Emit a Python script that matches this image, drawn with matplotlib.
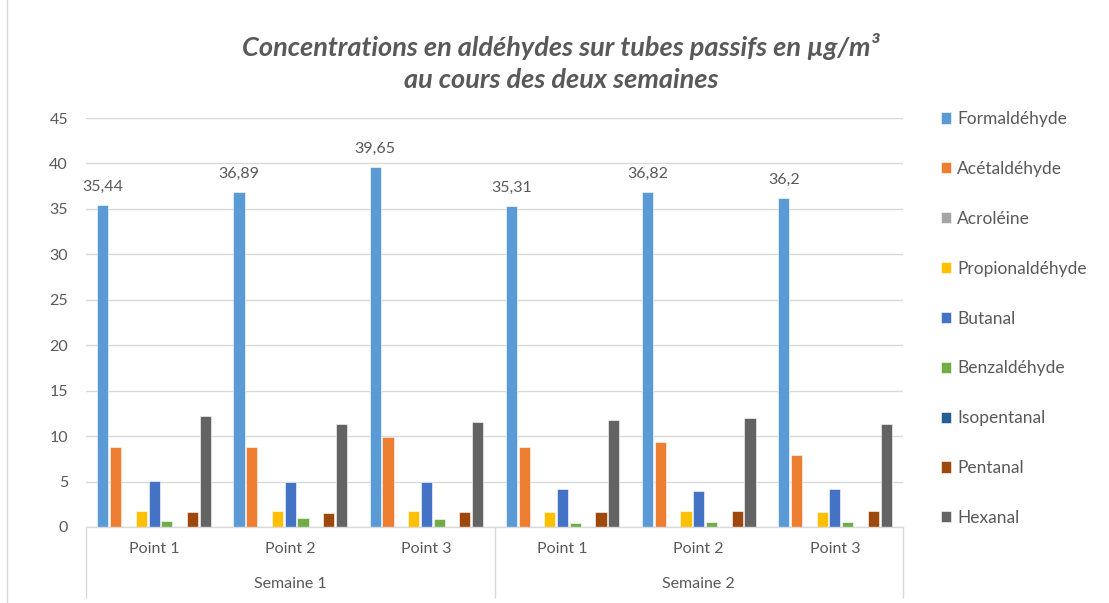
import matplotlib.pyplot as plt
from matplotlib.lines import Line2D
import numpy as np

plt.rcParams['font.family'] = ['Lato', 'DejaVu Sans']

points = ['Point 1', 'Point 2', 'Point 3', 'Point 1', 'Point 2', 'Point 3']
semaines = ['Semaine 1', 'Semaine 2']

series = ['Formaldéhyde', 'Acétaldéhyde', 'Acroléine', 'Propionaldéhyde', 'Butanal',
          'Benzaldéhyde', 'Isopentanal', 'Pentanal', 'Hexanal']

formaldehyde = [35.44, 36.89, 39.65, 35.31, 36.82, 36.2]
acetaldehyde = [8.85, 8.85, 9.9, 8.75, 9.3, 7.95]
acroleine = [0, 0, 0, 0, 0, 0]
propionaldehyde = [1.75, 1.75, 1.75, 1.6, 1.75, 1.6]
butanal = [5.1, 5.0, 5.0, 4.2, 3.95, 4.2]
benzaldehyde = [0.7, 0.95, 0.85, 0.45, 0.55, 0.55]
isopentanal = [0, 0, 0, 0, 0, 0]
pentanal = [1.6, 1.5, 1.6, 1.6, 1.75, 1.75]
hexanal = [12.2, 11.3, 11.55, 11.8, 11.95, 11.3]

values = [formaldehyde, acetaldehyde, acroleine, propionaldehyde, butanal,
          benzaldehyde, isopentanal, pentanal, hexanal]
colors = ['#5B9BD5', '#ED7D31', '#A5A5A5', '#FFC000', '#4472C4',
          '#70AD47', '#255E91', '#9E480E', '#636363']

txt = '#595959'
grid_c = '#D9D9D9'

fig = plt.figure(figsize=(11.09, 6.03), dpi=100)
ax = fig.add_axes([86 / 1109, 1 - 527 / 603, (903 - 86) / 1109, (527 - 118) / 603])

x = np.arange(len(points)) + 0.5
slot = 0.094
width = 0.082
for i, (name, vals, c) in enumerate(zip(series, values, colors)):
    off = (i - 4) * slot
    bars = ax.bar(x + off, vals, width, color=c, label=name, edgecolor='white', linewidth=0.4, zorder=3)
    if i == 0:
        for b, v in zip(bars, vals):
            ax.annotate(f'{v:g}'.replace('.', ','), (b.get_x() + b.get_width() / 2, v),
                        xytext=(0, 8), textcoords='offset points', ha='center', va='bottom',
                        fontsize=11.5, color=txt)

ax.set_xlim(0, 6)
ax.set_ylim(0, 45)
ax.set_yticks(range(0, 46, 5))
ax.yaxis.grid(True, color=grid_c, linewidth=1, zorder=0)
ax.tick_params(axis='y', length=0, pad=13, labelsize=11.5, labelcolor=txt)
for s in ['top', 'right', 'left']:
    ax.spines[s].set_visible(False)
ax.spines['bottom'].set_color(grid_c)
ax.spines['bottom'].set_linewidth(1)
ax.spines['bottom'].set_zorder(4)

# first level: points
ax.set_xticks(x)
ax.set_xticklabels(points)
ax.tick_params(axis='x', length=0, pad=11, labelsize=11.5, labelcolor=txt)

# separators
sep = ax.secondary_xaxis('bottom')
sep.set_xticks([0, 3, 6])
sep.set_xticklabels(['', '', ''])
sep.tick_params(axis='x', length=51, width=1, color=grid_c)
sep.spines['bottom'].set_visible(False)

# second level: semaines
sem = ax.secondary_xaxis('bottom')
sem.set_xticks([1.5, 4.5])
sem.set_xticklabels(semaines)
sem.tick_params(axis='x', length=0, pad=36, labelsize=11.5, labelcolor=txt)
sem.spines['bottom'].set_visible(False)

fig.text(561 / 1109, 1 - 63 / 603,
         'Concentrations en aldéhydes sur tubes passifs en µg/m³\nau cours des deux semaines',
         ha='center', va='center', fontsize=19.5, fontweight='bold', fontstyle='italic',
         color=txt, linespacing=1.4)

ax.legend(loc='upper left', bbox_to_anchor=(1.027, 1.055), frameon=False, fontsize=12.5,
          labelcolor=txt, handlelength=0.6, handleheight=0.6, handletextpad=0.35,
          labelspacing=1.95)

fig.add_artist(Line2D([7 / 1109, 7 / 1109], [0, 1], color=grid_c, linewidth=1))

fig.savefig('out.png', dpi=100)
